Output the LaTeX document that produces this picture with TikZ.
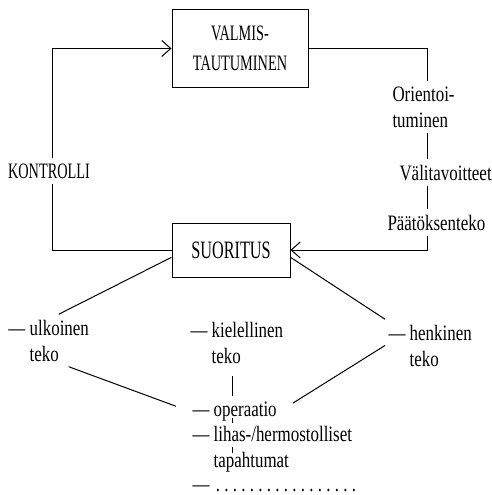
\documentclass[tikz,border=0pt]{standalone}
\usepackage{fontspec}
\setmainfont{Liberation Serif}[FakeStretch=0.77]
\newfontfamily\capsfont{Liberation Serif}[FakeStretch=0.65]
\usetikzlibrary{arrows.meta}

\begin{document}
\begin{tikzpicture}[x=1pt, y=-1pt, line width=1pt,
        >={Straight Barb[length=9pt,width=16pt]},
        phase/.style={draw, align=center, font=\capsfont\fontsize{22}{30}\selectfont},
        note/.style={align=left, inner xsep=3pt, inner ysep=5pt, font=\fontsize{22}{26}\selectfont}]
        \useasboundingbox (0,0) rectangle (491,495);
        % the loop
        \node[phase, minimum width=136pt, minimum height=77pt] (valmis) at (240,48.5) {VALMIS-\\TAUTUMINEN};
        \node[phase, minimum width=118pt, minimum height=54pt, font=\capsfont\fontsize{25}{28}\selectfont] (suoritus) at (231,250) {SUORITUS};
        \node[note, font=\capsfont\fontsize{22}{26}\selectfont, inner ysep=5pt, anchor=base] (kontrolli) at (49,178) {KONTROLLI};
        \node[note, anchor=base west] (orient) at (389,127) {Orientoi-\\tuminen};
        \node[note, anchor=base west] (vali) at (396,180) {Välitavoitteet};
        \node[note, anchor=base west] (paatos) at (384,230) {Päätöksenteko};
        \coordinate (lx) at (52,0);
        \coordinate (rx) at (427,0);
        \draw (suoritus.west) -| (kontrolli.south -| lx);
        \draw[->] (kontrolli.north -| lx) |- (valmis.west);
        \draw (valmis.east) -| (orient.north -| rx);
        \draw (orient.south -| rx) -- (vali.north -| rx);
        \draw (vali.south -| rx) -- (paatos.north -| rx);
        \draw[->] (paatos.south -| rx) |- (suoritus.east);
        % kinds of action
        \node[note, anchor=base west] (ulk) at (5,361) {— ulkoinen\\\hphantom{— }teko};
        \node[note, anchor=base west] (kiel) at (187,363) {— kielellinen\\\hphantom{— }teko};
        \node[note, anchor=base west] (henk) at (385,366) {— henkinen\\\hphantom{— }teko};
        \node[note, anchor=base west] (oper) at (189,416) {— operaatio};
        \node[note, anchor=base west] (lihas) at (189,467) {— lihas-/hermostolliset\\\hphantom{— }tapahtumat};
        \node[note, anchor=base west] (muut) at (189,491) {— \makebox[152pt]{\leaders\hbox to 8.5pt{\hss.\hss}\hfill}};
        \coordinate (tx) at (232,0);
        \draw (suoritus.187) -- ([xshift=10pt]ulk.north);
        \draw[shorten >=14pt] ([xshift=20pt]ulk.south) -- (oper.west);
        \draw (suoritus.353) -- (henk.north west);
        \draw[shorten >=15pt] (henk.west) -- (oper.east);
        \draw[shorten <=7pt] (kiel.south -| tx) -- (oper.north -| tx);
        \draw (tx |- oper.base) ++(0,2) -- ++(0,5);
        \draw (tx |- lihas.base) ++(0,-20) -- ++(0,6);
\end{tikzpicture}
\end{document}
